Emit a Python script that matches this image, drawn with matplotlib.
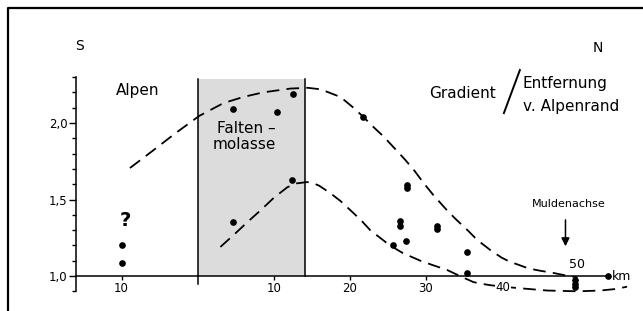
import matplotlib
matplotlib.use("Agg")
import matplotlib.pyplot as plt
import numpy as np

# ---- data (km from Alpenrand; negative = Alps side) ----
pts_x = [-10, -10, 4.7, 10.4, 12.5, 4.7, 12.4, 21.8, 25.7, 26.6, 26.6, 27.6, 27.6, 27.4,
         31.5, 31.5, 35.5, 35.5, 49.6, 49.6, 49.6, 54.0]
pts_y = [1.20, 1.085, 2.09, 2.07, 2.19, 1.35, 1.63, 2.04, 1.20, 1.36, 1.33, 1.595, 1.575, 1.23,
         1.33, 1.31, 1.16, 1.02, 0.975, 0.95, 0.925, 1.0]

upper_x = [-8.9, -6, -3, 0.2, 3.4, 6, 8.6, 12.2, 14.5, 16.2, 18.8, 20.5, 21.8, 23, 24.5, 26,
           27.3, 28.5, 29.7, 31, 32.8, 34, 35.5, 36.5, 37.2, 38.5, 40, 41, 42.4, 43.5, 45,
           46.8, 48, 50]
upper_y = [1.706, 1.815, 1.93, 2.046, 2.13, 2.17, 2.20, 2.225, 2.23, 2.22, 2.17, 2.10, 2.04,
           1.98, 1.91, 1.83, 1.76, 1.69, 1.61, 1.53, 1.43, 1.37, 1.30, 1.25, 1.22, 1.17, 1.12,
           1.095, 1.07, 1.05, 1.035, 1.02, 1.008, 0.99]

lower_x = [3.0, 4, 5, 6.5, 8.3, 10, 11.8, 13, 14.4, 15.2, 16, 17.5, 18.8, 20.1, 21.5, 22.7,
           24, 25.3, 27, 29.3, 31, 32.8, 34.5, 36.3, 37.5, 38.5, 40.2, 42.4, 46, 50, 53,
           55, 56.5]
lower_y = [1.19, 1.235, 1.28, 1.35, 1.43, 1.51, 1.58, 1.605, 1.614, 1.607, 1.59, 1.54, 1.49,
           1.43, 1.365, 1.30, 1.25, 1.20, 1.15, 1.10, 1.07, 1.04, 1.0, 0.96, 0.948, 0.94,
           0.93, 0.92, 0.905, 0.90, 0.905, 0.915, 0.93]

ytick_vals = [1.0, 1.5, 2.0]
ytick_labels = ["1,0", "1,5", "2,0"]
xtick_vals = [-10, 10, 20, 30]
xtick_labels = ["10", "10", "20", "30"]
falten_range = (0.0, 14.1)

fig = plt.figure(figsize=(6.43, 3.11), dpi=100)
ax = fig.add_axes([0, 0, 1, 1])
ax.set_xlim(-26, 58.6)
ax.set_ylim(1.0 - 35 / 153, 1.0 + 276 / 153)
ax.patch.set_alpha(0)

# frame
ax.plot([0.0124, 0.0124, 1.0], [0.0, 0.9743, 0.9743], transform=ax.transAxes,
        color="black", lw=1.6, clip_on=False)

# spines as axes
for s in ["top", "right"]:
    ax.spines[s].set_visible(False)
ax.spines["left"].set_position(("data", -16))
ax.spines["left"].set_bounds(0.9, 2.3)
ax.spines["bottom"].set_position(("data", 1.0))
ax.spines["bottom"].set_bounds(-16, 54)
for s in ["left", "bottom"]:
    ax.spines[s].set_linewidth(1.1)

ax.set_yticks(ytick_vals)
ax.set_yticklabels(ytick_labels, fontsize=8.5)
ax.set_yticks(np.round(np.arange(0.9, 2.31, 0.1), 2), minor=True)
ax.tick_params(axis="y", which="major", length=5, width=1, direction="out", pad=1)
ax.tick_params(axis="y", which="minor", length=3, width=1, direction="out")
ax.set_xticks(xtick_vals)
ax.set_xticklabels(xtick_labels, fontsize=8.5)
ax.tick_params(axis="x", which="major", length=3, width=1, direction="out", pad=1)

# Faltenmolasse shading
ax.fill_between(list(falten_range), 1.0, 2.29, color="#dcdcdc", lw=0, zorder=0)
ax.plot([falten_range[0]] * 2, [0.945, 2.29], color="black", lw=1.1)
ax.plot([falten_range[1]] * 2, [1.0, 2.29], color="black", lw=1.1)

# curves
ax.plot(upper_x, upper_y, color="black", lw=1.3, dashes=(7, 4))
ax.plot(lower_x, lower_y, color="black", lw=1.3, dashes=(7, 4))

# points
ax.plot(pts_x, pts_y, "o", color="black", ms=3.8, zorder=5)

# texts
ax.text(-15.6, 2.503, "S", fontsize=10, ha="center", va="center")
ax.text(52.6, 2.49, "N", fontsize=10, ha="center", va="center")
ax.text(-7.9, 2.21, "Alpen", fontsize=11, ha="center", va="center")
ax.text(2.6, 1.967, "Falten –", fontsize=11, ha="left", va="center")
ax.text(2.0, 1.860, "molasse", fontsize=11, ha="left", va="center")
ax.text(30.5, 2.19, "Gradient", fontsize=11, ha="left", va="center")
ax.plot([40.3, 42.4], [2.065, 2.346], color="black", lw=1.4)
ax.text(42.8, 2.26, "Entfernung", fontsize=11, ha="left", va="center")
ax.text(42.8, 2.11, "v. Alpenrand", fontsize=11, ha="left", va="center")
ax.text(-9.5, 1.36, "?", fontsize=14, fontweight="bold", ha="center", va="center")
ax.text(48.8, 1.47, "Muldenachse", fontsize=8, ha="center", va="center")
ax.annotate("", xy=(48.4, 1.176), xytext=(48.4, 1.385),
            arrowprops=dict(arrowstyle="-|>", color="black", lw=1.1, mutation_scale=12))
ax.text(54.5, 0.995, "km", fontsize=9, ha="left", va="center")
ax.text(49.9, 1.078, "50", fontsize=9, ha="center", va="center")
ax.text(40.2, 0.928, "40", fontsize=8.5, ha="center", va="center",
        bbox=dict(facecolor="white", edgecolor="none", pad=0.5), zorder=4)

fig.savefig("out.png", dpi=100)
